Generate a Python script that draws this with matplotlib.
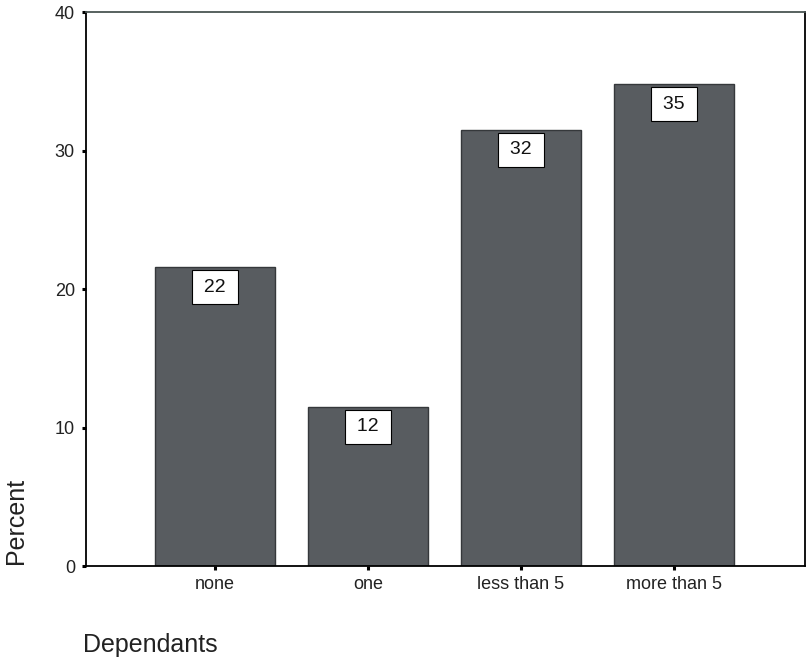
import matplotlib
matplotlib.use("Agg")
import matplotlib.pyplot as plt

categories = ["none", "one", "less than 5", "more than 5"]
values = [21.6, 11.5, 31.5, 34.8]
labels = ["22", "12", "32", "35"]
yticks = [0, 10, 20, 30, 40]

plt.rcParams['font.family'] = ['Liberation Sans', 'DejaVu Sans']

fig = plt.figure(figsize=(8.07, 6.61), dpi=100)
ax = fig.add_axes([0.1066, 0.1437, 0.8909, 0.8381])

x = list(range(len(categories)))
ax.bar(x, values, width=0.78, color="#585c60", edgecolor="#35383b", linewidth=1.0, zorder=2)

for xi, v, lab in zip(x, values, labels):
    ax.annotate("\u2009" + lab + "\u2009", xy=(xi, v), xytext=(0, -14.5), textcoords="offset points",
                ha="center", va="center", fontsize=14, color="#111111", zorder=3,
                bbox=dict(boxstyle="square,pad=0.44", facecolor="white", edgecolor="black", linewidth=0.8))

ax.set_xlim(-0.843, 3.856)
ax.set_ylim(0, 40)
ax.set_yticks(yticks)
ax.set_yticklabels([str(t) for t in yticks], fontsize=13, color="#222222")
ax.set_xticks(x)
ax.set_xticklabels(categories, fontsize=13, color="#222222")
ax.tick_params(axis="y", direction="out", length=3, width=2.2, color="black", pad=5)
ax.tick_params(axis="x", direction="out", length=3, width=2.2, color="black", pad=4)

for s in ax.spines.values():
    s.set_linewidth(1.3)
    s.set_color("black")
ax.spines["top"].set_color("#4a5553")

fig.text(0.0198, 0.2118, "Percent", rotation=90, ha="center", va="center", fontsize=18, color="#222222")
fig.text(0.1029, 0.0136, "Dependants", ha="left", va="baseline", fontsize=18, color="#222222")

fig.savefig("out.png", dpi=100)
